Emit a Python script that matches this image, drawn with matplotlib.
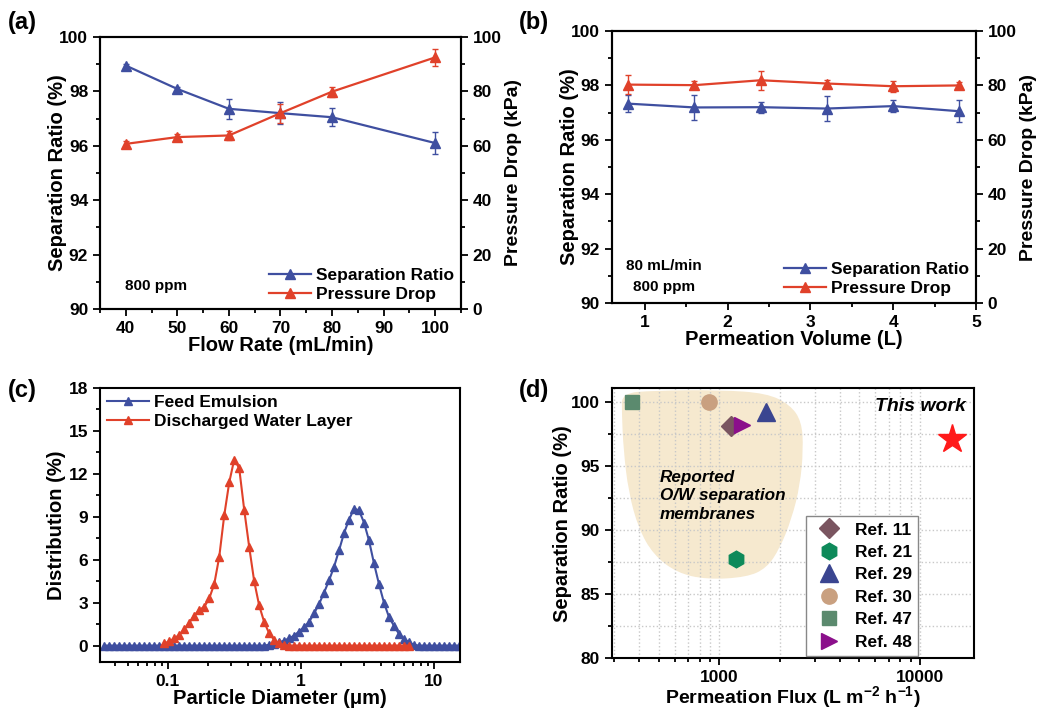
import numpy as np
import matplotlib
matplotlib.use('Agg')
import matplotlib.pyplot as plt
from matplotlib.ticker import MultipleLocator, LogLocator, FuncFormatter, NullFormatter
from matplotlib.path import Path
from matplotlib.patches import PathPatch

plt.rcParams['font.family'] = ['Liberation Sans', 'DejaVu Sans']
plt.rcParams['font.weight'] = 'bold'
plt.rcParams['axes.labelweight'] = 'bold'
plt.rcParams['mathtext.fontset'] = 'custom'
plt.rcParams['mathtext.rm'] = 'Liberation Sans:bold'
plt.rcParams['mathtext.bf'] = 'Liberation Sans:bold'
plt.rcParams['mathtext.default'] = 'bf'

BLUE = '#3f4fa0'
RED = '#e0412a'

# (a) effect of flow rate
flow = [40, 50, 60, 70, 80, 100]
sep_a = [98.95, 98.09, 97.36, 97.20, 97.05, 96.10]
sep_a_err = [0.06, 0.06, 0.37, 0.40, 0.33, 0.42]
dp_a = [60.7, 63.2, 63.8, 72.0, 79.9, 92.5]
dp_a_err = [1.0, 1.0, 1.5, 3.5, 1.8, 3.2]

# (b) effect of permeation volume
vol = [0.8, 1.6, 2.4, 3.2, 4.0, 4.8]
sep_b = [97.33, 97.19, 97.20, 97.15, 97.24, 97.05]
sep_b_err = [0.30, 0.45, 0.20, 0.45, 0.22, 0.40]
dp_b = [80.3, 80.1, 81.9, 80.7, 79.7, 80.0]
dp_b_err = [3.5, 1.5, 3.5, 1.2, 2.0, 1.3]

# (c) droplet size distribution
diam = [0.0335, 0.0365, 0.0398, 0.0434, 0.0473, 0.0516, 0.0562, 0.0613, 0.0668,
        0.0729, 0.0794, 0.0866, 0.0944, 0.1029, 0.1122, 0.1223, 0.1334, 0.1454,
        0.1585, 0.1728, 0.1884, 0.2054, 0.2239, 0.2441, 0.2661, 0.2901, 0.3162,
        0.3447, 0.3758, 0.4097, 0.4467, 0.4870, 0.5309, 0.5788, 0.6310, 0.6879,
        0.7499, 0.8176, 0.8913, 0.9716, 1.059, 1.155, 1.259, 1.372, 1.496, 1.631,
        1.778, 1.938, 2.113, 2.304, 2.512, 2.738, 2.985, 3.255, 3.548, 3.868,
        4.217, 4.597, 5.012, 5.464, 5.957, 6.494, 7.079, 7.718, 8.414, 9.173,
        10.00, 10.90, 11.89, 12.96, 14.13, 15.40]
feed = [0, 0, 0, 0, 0, 0, 0, 0, 0, 0, 0, 0, 0, 0, 0, 0, 0, 0, 0, 0, 0, 0, 0, 0,
        0, 0, 0, 0, 0, 0, 0, 0, 0,
        0.05, 0.12, 0.22, 0.35, 0.50, 0.70, 0.98, 1.30, 1.65, 2.25, 2.90, 3.70,
        4.55, 5.50, 6.65, 7.85, 8.80, 9.55, 9.45, 8.60, 7.35, 5.75, 4.30, 3.00,
        2.00, 1.38, 0.82, 0.48, 0.22, 0.05,
        0, 0, 0, 0, 0, 0, 0, 0, 0]
water = [0.15, 0.30, 0.50, 0.75, 1.15, 1.60, 2.10, 2.50, 2.70, 3.30, 4.30, 6.20,
         9.10, 11.40, 13.00, 12.40, 9.50, 6.90, 4.50, 2.80, 1.65, 0.85, 0.40,
         0.15, 0.05,
         0, 0, 0, 0, 0, 0, 0, 0, 0, 0, 0, 0, 0, 0, 0, 0, 0, 0, 0, 0, 0, 0, 0, 0, 0]
diam_water = diam[12:62]

# (d) comparison with literature
refs = ['Ref. 11', 'Ref. 21', 'Ref. 29', 'Ref. 30', 'Ref. 47', 'Ref. 48']
ref_flux = [1150, 1220, 1710, 890, 370, 1300]
ref_ratio = [98.1, 87.7, 99.2, 100.0, 100.0, 98.2]
ref_marker = ['D', 'h', '^', 'o', 's', '>']
ref_size = [10, 12, 13, 11, 10.5, 11]
ref_color = ['#7a5560', '#0e8a5a', '#3a4590', '#c9a080', '#5b8a6e', '#8b0f8b']
this_flux = 14400
this_ratio = 97.1
# outline of the "reported membranes" region (flux, ratio)
blob_flux = [328, 471, 1011, 1727, 2254, 2576, 2626, 2528, 2300, 2009, 1727,
             1374, 868, 617, 471, 397, 354, 334, 328]
blob_ratio = [100.65, 100.85, 100.9, 100.65, 99.75, 98.46, 96.28, 93.45, 90.88,
              88.57, 87.02, 86.3, 86.12, 86.64, 88.05, 90.1, 92.94, 96.28, 99.1]


def style(ax, right=False):
    ax.tick_params(which='both', direction='out', width=1.3, labelsize=12.5)
    ax.tick_params(which='major', length=5)
    ax.tick_params(which='minor', length=3)
    for s in ax.spines.values():
        s.set_linewidth(1.5)
    if not right:
        ax.tick_params(right=False, top=False)


fig = plt.figure(figsize=(10.38, 7.10), dpi=100)

ax_a = fig.add_axes([0.0963, 0.5648, 0.3478, 0.3831])
ax_b = fig.add_axes([0.5893, 0.5732, 0.3510, 0.3831])
ax_c = fig.add_axes([0.0963, 0.0676, 0.3468, 0.3859])
ax_d = fig.add_axes([0.5893, 0.0732, 0.3490, 0.3799])


def dual_panel(ax, x, sep, sep_err, dp, dp_err):
    ax2 = ax.twinx()
    ax.errorbar(x, sep, yerr=sep_err, fmt='none', ecolor=BLUE, elinewidth=1,
                capsize=2.5, capthick=1)
    l1, = ax.plot(x, sep, color=BLUE, lw=1.6, marker='^', ms=7)
    ax2.errorbar(x, dp, yerr=dp_err, fmt='none', ecolor=RED, elinewidth=1,
                 capsize=2.5, capthick=1)
    l2, = ax2.plot(x, dp, color=RED, lw=1.6, marker='^', ms=7)
    ax.set_ylim(90, 100)
    ax2.set_ylim(0, 100)
    ax.yaxis.set_major_locator(MultipleLocator(2))
    ax.yaxis.set_minor_locator(MultipleLocator(1))
    ax2.yaxis.set_major_locator(MultipleLocator(20))
    ax2.yaxis.set_minor_locator(MultipleLocator(10))
    ax.set_ylabel('Separation Ratio (%)', fontsize=14.5, labelpad=-6)
    ax2.set_ylabel('Pressure Drop (kPa)', fontsize=14, labelpad=2)
    style(ax)
    style(ax2, right=True)
    ax2.tick_params(top=False)
    ax.legend([l1, l2], ['Separation Ratio', 'Pressure Drop'], loc='lower right',
              frameon=False, fontsize=12.5, handlelength=2.4, handletextpad=0.3,
              labelspacing=0.2, borderaxespad=0.2, borderpad=0.2)
    return ax2


# (a)
dual_panel(ax_a, flow, sep_a, sep_a_err, dp_a, dp_a_err)
ax_a.set_xlim(35, 105)
ax_a.xaxis.set_major_locator(MultipleLocator(10))
ax_a.xaxis.set_minor_locator(MultipleLocator(5))
ax_a.set_xlabel('Flow Rate (mL/min)', fontsize=14.5, labelpad=0)
ax_a.text(0.155, 0.085, '800 ppm', transform=ax_a.transAxes, ha='center',
          va='center', fontsize=11)

# (b)
dual_panel(ax_b, vol, sep_b, sep_b_err, dp_b, dp_b_err)
ax_b.set_xlim(0.6, 5.0)
ax_b.xaxis.set_major_locator(MultipleLocator(1))
ax_b.xaxis.set_minor_locator(MultipleLocator(0.5))
ax_b.set_xlabel('Permeation Volume (L)', fontsize=14.5, labelpad=0)
ax_b.text(0.144, 0.136, '80 mL/min', transform=ax_b.transAxes, ha='center',
          va='center', fontsize=11)
ax_b.text(0.144, 0.059, '800 ppm', transform=ax_b.transAxes, ha='center',
          va='center', fontsize=11)

# (c)
ax_c.plot(diam, feed, color=BLUE, lw=1.5, marker='^', ms=5.5,
          label='Feed Emulsion')
ax_c.plot(diam_water, water, color=RED, lw=1.5, marker='^', ms=5.5,
          label='Discharged Water Layer')
ax_c.set_xscale('log')
ax_c.set_xlim(0.031, 15.7)
ax_c.set_ylim(-1.15, 18)
ax_c.yaxis.set_major_locator(MultipleLocator(3))
ax_c.yaxis.set_minor_locator(MultipleLocator(1.5))
ax_c.xaxis.set_major_locator(LogLocator(base=10))
ax_c.xaxis.set_minor_locator(LogLocator(base=10, subs=np.arange(2, 10)))
ax_c.xaxis.set_major_formatter(FuncFormatter(lambda v, p: '%g' % v))
ax_c.xaxis.set_minor_formatter(NullFormatter())
ax_c.set_xlabel('Particle Diameter (μm)', fontsize=14.5, labelpad=0)
ax_c.set_ylabel('Distribution (%)', fontsize=14.5, labelpad=2)
style(ax_c)
ax_c.legend(loc='upper left', frameon=False, fontsize=12.5, handlelength=2.4,
            handletextpad=0.3, labelspacing=0.2, borderaxespad=0.2, borderpad=0.2)

# (d)
ax_d.set_xscale('log')
ax_d.set_xlim(292, 18570)
ax_d.set_ylim(80, 101.03)
ax_d.set_axisbelow(True)
verts = list(zip(blob_flux, blob_ratio))
n = len(verts)
mids = [((np.log10(verts[i][0]) + np.log10(verts[(i + 1) % n][0])) / 2,
         (verts[i][1] + verts[(i + 1) % n][1]) / 2) for i in range(n)]
path_v = [(10 ** mids[0][0], mids[0][1])]
codes = [Path.MOVETO]
for i in range(1, n + 1):
    path_v.append(verts[i % n])
    path_v.append((10 ** mids[i % n][0], mids[i % n][1]))
    codes += [Path.CURVE3, Path.CURVE3]
ax_d.add_patch(PathPatch(Path(path_v, codes), facecolor='#f6e9cf',
                         edgecolor='none', zorder=0.2))
ax_d.grid(True, which='both', color='#c8c8c8', linestyle=':', lw=1)
handles = []
for f, r, m, s, c in zip(ref_flux, ref_ratio, ref_marker, ref_size, ref_color):
    h, = ax_d.plot([f], [r], linestyle='none', marker=m, ms=s, color=c,
                   mec=c, zorder=3)
    handles.append(h)
ax_d.plot([this_flux], [this_ratio], linestyle='none', marker='*', ms=21,
          color='#ff1a1a', zorder=3)
ax_d.yaxis.set_major_locator(MultipleLocator(5))
ax_d.yaxis.set_minor_locator(MultipleLocator(2.5))
ax_d.xaxis.set_major_locator(LogLocator(base=10))
ax_d.xaxis.set_minor_locator(LogLocator(base=10, subs=np.arange(2, 10)))
ax_d.xaxis.set_major_formatter(FuncFormatter(lambda v, p: '%d' % v))
ax_d.xaxis.set_minor_formatter(NullFormatter())
ax_d.set_xlabel(r'Permeation Flux (L m$^{-2}$ h$^{-1}$)', fontsize=14,
                labelpad=-0.5)
ax_d.set_ylabel('Separation Ratio (%)', fontsize=14.5, labelpad=-1)
style(ax_d)
leg = ax_d.legend(handles, refs, loc='lower left', bbox_to_anchor=(0.535, 0.008),
                  fontsize=12.5, frameon=True, fancybox=False, framealpha=1,
                  edgecolor='#888888', handletextpad=0.5, labelspacing=0.42,
                  borderpad=0.35, borderaxespad=0)
leg.get_frame().set_linewidth(1)
ax_d.text(0.978, 0.931, 'This work', transform=ax_d.transAxes, ha='right',
          va='center', fontsize=14, style='italic')
ax_d.text(0.133, 0.601, 'Reported\nO/W separation\nmembranes',
          transform=ax_d.transAxes, ha='left', va='center', fontsize=12.3,
          style='italic', linespacing=1.3)

# panel letters
fig.text(0.008, 1 - 23 / 710, '(a)', fontsize=17, va='center')
fig.text(0.500, 1 - 22 / 710, '(b)', fontsize=17, va='center')
fig.text(0.008, 1 - 390 / 710, '(c)', fontsize=17, va='center')
fig.text(0.500, 1 - 390 / 710, '(d)', fontsize=17, va='center')

fig.savefig('out.png', dpi=100)
